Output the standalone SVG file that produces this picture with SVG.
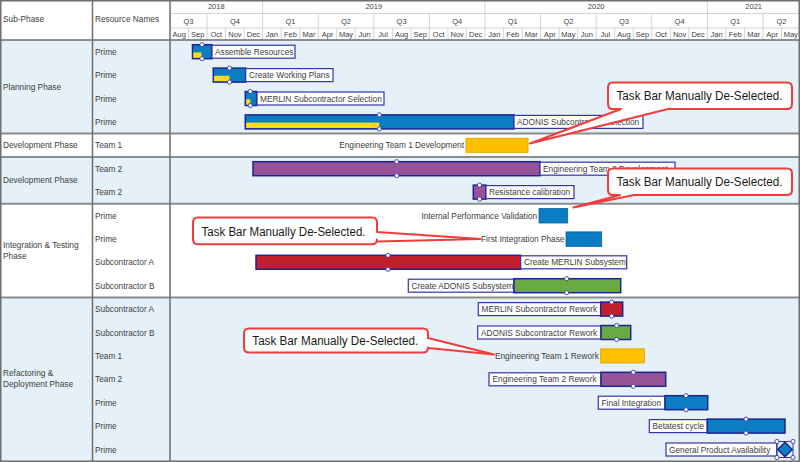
<svg xmlns="http://www.w3.org/2000/svg" width="800" height="462" viewBox="0 0 800 462">
<style>
.t{font-family:"Liberation Sans",Arial,sans-serif;font-size:8.3px;fill:#404040}
.h{font-family:"Liberation Sans",Arial,sans-serif;font-size:7.5px;fill:#404040;text-anchor:middle}
.e{text-anchor:end}
.bg{fill:#e6f0f8}
.gl{stroke:#d4d4d4;stroke-width:1;fill:none}
.dv{stroke:#6e6e6e;stroke-width:1.5;fill:none}
.gd{stroke:#8c8c8c;stroke-width:2;fill:none}
.blue{fill:#0b7dc3;stroke:#1e2490;stroke-width:1.5}
.blue2{fill:#0b7dc3;stroke:#0a5f9a;stroke-width:0.8}
.purple{fill:#975397;stroke:#1e2490;stroke-width:1.5}
.red{fill:#c11f2a;stroke:#1e2490;stroke-width:1.5}
.green{fill:#6aaa42;stroke:#1e2490;stroke-width:1.5}
.gold{fill:#ffc000;stroke:#e3a600;stroke-width:1}
.prog{fill:#ffd91a}
.lbl{fill:#fff;stroke:#3434a8;stroke-width:1.2}
.hd{fill:#fff;stroke:#3a3aa8;stroke-width:0.9}
.co{fill:#fff;stroke:#f03c3c;stroke-width:2;stroke-linejoin:round}
.ct{font-family:"Liberation Sans",Arial,sans-serif;font-size:12px;fill:#1a1a1a}
</style>
<defs>
<circle id="hd" r="2.1" class="hd"/>
</defs>
<rect x="0" y="0" width="800" height="462" fill="#fff"/>
<!-- backgrounds -->
<rect class="bg" x="0" y="40" width="800" height="93.6"/>
<rect class="bg" x="0" y="157" width="800" height="46.8"/>
<rect class="bg" x="0" y="297.4" width="800" height="164.6"/>
<!-- header grid -->
<g id="header">
<path class="gl" d="M170,13.5H800M170,28H800"/>
<path class="gl" d="M262.65,0V40M485.01,0V40M707.37,0V40"/>
<path class="gl" d="M207.06,13.5V40M318.24,13.5V40M373.83,13.5V40M429.42,13.5V40M540.6,13.5V40M596.19,13.5V40M651.78,13.5V40M762.96,13.5V40"/>
<path class="gl" d="M188.53,28V40M225.59,28V40M244.12,28V40M281.18,28V40M299.71,28V40M336.77,28V40M355.3,28V40M392.36,28V40M410.89,28V40M447.95,28V40M466.48,28V40M503.54,28V40M522.07,28V40M559.13,28V40M577.66,28V40M614.72,28V40M633.25,28V40M670.31,28V40M688.84,28V40M725.9,28V40M744.43,28V40M781.49,28V40"/>
<text class="t" x="3" y="22">Sub-Phase</text>
<text class="t" x="95" y="22">Resource Names</text>
<text class="h" x="216.3" y="9">2018</text>
<text class="h" x="373.8" y="9">2019</text>
<text class="h" x="596.2" y="9">2020</text>
<text class="h" x="753.7" y="9">2021</text>
<text class="h" x="188.5" y="23.5">Q3</text>
<text class="h" x="234.9" y="23.5">Q4</text>
<text class="h" x="290.4" y="23.5">Q1</text>
<text class="h" x="346.0" y="23.5">Q2</text>
<text class="h" x="401.6" y="23.5">Q3</text>
<text class="h" x="457.2" y="23.5">Q4</text>
<text class="h" x="512.8" y="23.5">Q1</text>
<text class="h" x="568.4" y="23.5">Q2</text>
<text class="h" x="624.0" y="23.5">Q3</text>
<text class="h" x="679.6" y="23.5">Q4</text>
<text class="h" x="735.2" y="23.5">Q1</text>
<text class="h" x="781.5" y="23.5">Q2</text>
<g>
<text class="h" x="179.3" y="37">Aug</text><text class="h" x="197.8" y="37">Sep</text><text class="h" x="216.3" y="37">Oct</text><text class="h" x="234.9" y="37">Nov</text><text class="h" x="253.4" y="37">Dec</text>
<text class="h" x="271.9" y="37">Jan</text><text class="h" x="290.4" y="37">Feb</text><text class="h" x="309.0" y="37">Mar</text><text class="h" x="327.5" y="37">Apr</text><text class="h" x="346.0" y="37">May</text><text class="h" x="364.6" y="37">Jun</text>
<text class="h" x="383.1" y="37">Jul</text><text class="h" x="401.6" y="37">Aug</text><text class="h" x="420.2" y="37">Sep</text><text class="h" x="438.7" y="37">Oct</text><text class="h" x="457.2" y="37">Nov</text><text class="h" x="475.7" y="37">Dec</text>
<text class="h" x="494.3" y="37">Jan</text><text class="h" x="512.8" y="37">Feb</text><text class="h" x="531.3" y="37">Mar</text><text class="h" x="549.9" y="37">Apr</text><text class="h" x="568.4" y="37">May</text><text class="h" x="586.9" y="37">Jun</text>
<text class="h" x="605.4" y="37">Jul</text><text class="h" x="624.0" y="37">Aug</text><text class="h" x="642.5" y="37">Sep</text><text class="h" x="661.0" y="37">Oct</text><text class="h" x="679.6" y="37">Nov</text><text class="h" x="698.1" y="37">Dec</text>
<text class="h" x="716.6" y="37">Jan</text><text class="h" x="735.2" y="37">Feb</text><text class="h" x="753.7" y="37">Mar</text><text class="h" x="772.2" y="37">Apr</text><text class="h" x="790.8" y="37">May</text>
</g>
</g>
<!-- grid dividers -->
<path class="gd" d="M0,133.6H800M0,157H800M0,203.8H800M0,297.4H800"/>
<path class="dv" d="M0,40H800M92.5,0V462M170,0V462"/>
<rect x="0.75" y="0.75" width="798.5" height="460.5" fill="none" stroke="#6e6e6e" stroke-width="1.5"/>
<!-- left columns -->
<g id="phases">
<text class="t" x="3" y="89.7">Planning Phase</text>
<text class="t" x="3" y="148.3">Development Phase</text>
<text class="t" x="3" y="183.3">Development Phase</text>
<text class="t" x="3" y="248">Integration &amp; Testing</text>
<text class="t" x="3" y="259">Phase</text>
<text class="t" x="3" y="376.3">Refactoring &amp;</text>
<text class="t" x="3" y="387.3">Deployment Phase</text>
</g>
<g id="resources">
<text class="t" x="95" y="54.7">Prime</text>
<text class="t" x="95" y="78.1">Prime</text>
<text class="t" x="95" y="101.5">Prime</text>
<text class="t" x="95" y="124.9">Prime</text>
<text class="t" x="95" y="148.3">Team 1</text>
<text class="t" x="95" y="171.7">Team 2</text>
<text class="t" x="95" y="195.1">Team 2</text>
<text class="t" x="95" y="218.5">Prime</text>
<text class="t" x="95" y="241.9">Prime</text>
<text class="t" x="95" y="265.3">Subcontractor A</text>
<text class="t" x="95" y="288.7">Subcontractor B</text>
<text class="t" x="95" y="312.1">Subcontractor A</text>
<text class="t" x="95" y="335.5">Subcontractor B</text>
<text class="t" x="95" y="358.9">Team 1</text>
<text class="t" x="95" y="382.3">Team 2</text>
<text class="t" x="95" y="405.7">Prime</text>
<text class="t" x="95" y="429.1">Prime</text>
<text class="t" x="95" y="452.5">Prime</text>
</g>
<!-- tasks -->
<g id="task-assemble-resources">
<rect class="blue" x="192.5" y="44.7" width="19.5" height="14"/>
<rect class="prog" x="193.3" y="52.4" width="8.2" height="5.4"/>
<rect class="lbl" x="212" y="45.2" width="83" height="13"/>
<text class="t" x="215" y="54.7">Assemble Resources</text>
<use href="#hd" x="202" y="44.7"/><use href="#hd" x="202" y="58.7"/>
</g>
<g id="task-create-working-plans">
<rect class="blue" x="213.3" y="68.1" width="32.4" height="14"/>
<rect class="prog" x="214.1" y="75.8" width="15.4" height="5.4"/>
<rect class="lbl" x="245.7" y="68.6" width="87.3" height="13"/>
<text class="t" x="249" y="78.1">Create Working Plans</text>
<use href="#hd" x="229.5" y="68.1"/><use href="#hd" x="229.5" y="82.1"/>
</g>
<g id="task-merlin-selection">
<rect class="blue" x="245.3" y="91.5" width="11.4" height="14"/>
<rect class="prog" x="246.1" y="99.2" width="4.2" height="5.4"/>
<rect class="lbl" x="257" y="92" width="127" height="13"/>
<text class="t" x="260" y="101.5">MERLIN Subcontractor Selection</text>
<use href="#hd" x="250.3" y="91.5"/><use href="#hd" x="250.3" y="105.5"/>
</g>
<g id="task-adonis-selection">
<rect class="blue" x="245.3" y="114.9" width="268.7" height="14"/>
<rect class="prog" x="246.1" y="122.6" width="133.2" height="5.4"/>
<rect class="lbl" x="514" y="115.4" width="129" height="13"/>
<text class="t" x="517" y="124.9">ADONIS Subcontractor Selection</text>
<use href="#hd" x="379.3" y="114.9"/><use href="#hd" x="379.3" y="128.9"/>
</g>
<g id="task-eng-team1-dev">
<text class="t e" x="464" y="148.3">Engineering Team 1 Development</text>
<rect class="gold" x="466" y="138.3" width="62" height="14"/>
</g>
<g id="task-eng-team2-dev">
<rect class="purple" x="253" y="161.7" width="287" height="14"/>
<rect class="lbl" x="540" y="162.2" width="135" height="13"/>
<text class="t" x="543" y="171.7">Engineering Team 2 Development</text>
<use href="#hd" x="396.7" y="161.7"/><use href="#hd" x="396.7" y="175.7"/>
</g>
<g id="task-resistance-calibration">
<rect class="purple" x="473.3" y="185.1" width="12.7" height="14"/>
<rect class="lbl" x="486" y="185.6" width="88" height="13"/>
<text class="t" x="489" y="195.1">Resistance calibration</text>
<use href="#hd" x="479.5" y="185.1"/><use href="#hd" x="479.5" y="199.1"/>
</g>
<g id="task-internal-validation">
<text class="t e" x="537" y="218.5">Internal Performance Validation</text>
<rect class="blue2" x="539" y="208.5" width="28.7" height="14.5"/>
</g>
<g id="task-first-integration">
<text class="t e" x="564.5" y="241.9">First Integration Phase</text>
<rect class="blue2" x="566" y="231.9" width="35.7" height="14.5"/>
</g>
<g id="task-create-merlin">
<rect class="red" x="256" y="255.3" width="264.7" height="14"/>
<rect class="lbl" x="520.7" y="255.8" width="106" height="13"/>
<text class="t" x="524" y="265.3">Create MERLIN Subsystem</text>
<use href="#hd" x="388" y="255.3"/><use href="#hd" x="388" y="269.3"/>
</g>
<g id="task-create-adonis">
<rect class="lbl" x="408.3" y="279.2" width="105.7" height="13"/>
<text class="t" x="411.5" y="288.7">Create ADONIS Subsystem</text>
<rect class="green" x="514" y="278.7" width="106.7" height="14"/>
<use href="#hd" x="566.7" y="278.7"/><use href="#hd" x="566.7" y="292.7"/>
</g>
<g id="task-merlin-rework">
<rect class="lbl" x="478.3" y="302.6" width="122.4" height="13"/>
<text class="t" x="481.5" y="312.1">MERLIN Subcontractor Rework</text>
<rect class="red" x="600.7" y="302.1" width="22" height="14"/>
<use href="#hd" x="611.7" y="302.1"/><use href="#hd" x="611.7" y="316.1"/>
</g>
<g id="task-adonis-rework">
<rect class="lbl" x="477.7" y="326" width="123.3" height="13"/>
<text class="t" x="481" y="335.5">ADONIS Subcontractor Rework</text>
<rect class="green" x="601" y="325.5" width="29.7" height="14"/>
<use href="#hd" x="616.7" y="325.5"/><use href="#hd" x="616.7" y="339.5"/>
</g>
<g id="task-eng-team1-rework">
<text class="t e" x="599" y="358.9">Engineering Team 1 Rework</text>
<rect class="gold" x="600.7" y="348.9" width="43.6" height="14"/>
</g>
<g id="task-eng-team2-rework">
<rect class="lbl" x="489" y="372.8" width="112" height="13"/>
<text class="t" x="492.5" y="382.3">Engineering Team 2 Rework</text>
<rect class="purple" x="601" y="372.3" width="64.7" height="14"/>
<use href="#hd" x="633.3" y="372.3"/><use href="#hd" x="633.3" y="386.3"/>
</g>
<g id="task-final-integration">
<rect class="lbl" x="598.3" y="396.2" width="66.7" height="13"/>
<text class="t" x="601.5" y="405.7">Final Integration</text>
<rect class="blue" x="665" y="395.7" width="42.7" height="14"/>
<use href="#hd" x="686" y="395.7"/><use href="#hd" x="686" y="409.7"/>
</g>
<g id="task-betatest">
<rect class="lbl" x="649.3" y="419.6" width="58" height="13"/>
<text class="t" x="652.5" y="429.1">Betatest cycle</text>
<rect class="blue" x="707.3" y="419.1" width="77.7" height="14"/>
<use href="#hd" x="746" y="419.1"/><use href="#hd" x="746" y="433.1"/>
</g>
<g id="milestone-gpa">
<rect class="lbl" x="666" y="443" width="110.7" height="13"/>
<text class="t" x="669" y="452.5">General Product Availability</text>
<rect x="777" y="441.5" width="16" height="16" fill="none" stroke="#3434a8" stroke-width="1"/>
<path class="blue" d="M785,442.2L792.3,449.5L785,456.8L777.7,449.5Z"/>
<use href="#hd" x="777" y="441.5"/><use href="#hd" x="793" y="441.5"/><use href="#hd" x="777" y="457.5"/><use href="#hd" x="793" y="457.5"/>
</g>
<!-- callouts -->
<g id="connectors">
<g id="callout-1">
<path class="co" d="M613,82.5H787Q792,82.5 792,87.5V104Q792,109 787,109H668L530,143.5L621,109H613Q608,109 608,104V87.5Q608,82.5 613,82.5Z"/>
<text class="ct" x="616.5" y="100" textLength="166" lengthAdjust="spacingAndGlyphs">Task Bar Manually De-Selected.</text>
</g>
<g id="callout-2">
<path class="co" d="M613,168.5H787Q792,168.5 792,173.5V190Q792,195 787,195H634L573.5,207.5L620,195H613Q608,195 608,190V173.5Q608,168.5 613,168.5Z"/>
<text class="ct" x="616.5" y="186" textLength="166" lengthAdjust="spacingAndGlyphs">Task Bar Manually De-Selected.</text>
</g>
<g id="callout-3">
<path class="co" d="M198,217.5H372Q377,217.5 377,222.5V232L480.5,239L377,241.5V239.5Q377,244.3 372,244.3H198Q193,244.3 193,239.3V222.5Q193,217.5 198,217.5Z"/>
<text class="ct" x="201.5" y="235.5" textLength="164" lengthAdjust="spacingAndGlyphs">Task Bar Manually De-Selected.</text>
</g>
<g id="callout-4">
<path class="co" d="M249,328.5H423Q428,328.5 428,333.5V338L494,354.5L428,348V347.5Q428,352.5 423,352.5H249Q244,352.5 244,347.5V333.5Q244,328.5 249,328.5Z"/>
<text class="ct" x="252.3" y="345" textLength="166" lengthAdjust="spacingAndGlyphs">Task Bar Manually De-Selected.</text>
</g>
</g>
</svg>
